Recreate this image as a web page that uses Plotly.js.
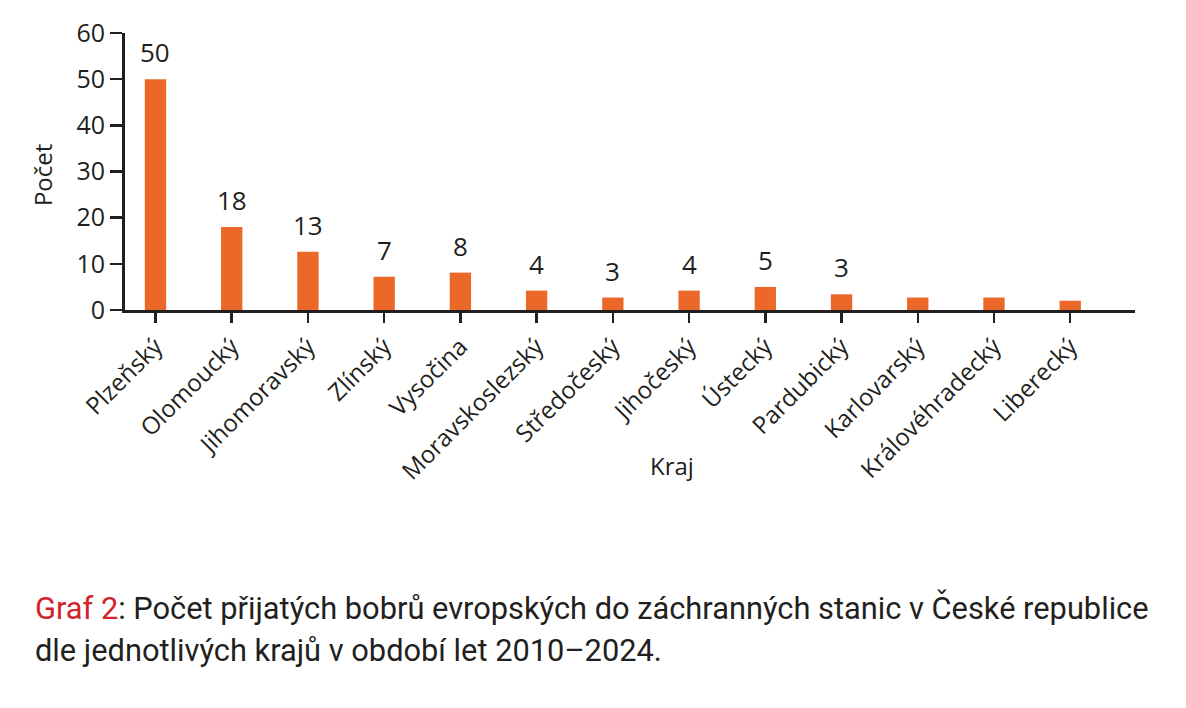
<!DOCTYPE html>
<html>
<head>
<meta charset="utf-8">
<script src="https://cdn.plot.ly/plotly-3.0.1.min.js"></script>
<style>
  html, body { margin: 0; padding: 0; background: #fff; }
  #wrap { position: relative; width: 1186px; height: 708px; }
  #chart { position: absolute; left: 0; top: 0; width: 1186px; height: 708px; }
  #caption { position: absolute; left: 35px; top: 588px; font-family: Roboto, sans-serif;
    font-size: 30.8px; line-height: 42px; color: #231f20; white-space: nowrap; }
  #caption .red { color: #d2232a; }
</style>
</head>
<body>
<div id="wrap">
  <div id="chart"></div>
  <div id="caption"><span class="red">Graf 2</span>: Počet přijatých bobrů evropských do záchranných stanic v České republice<br>dle jednotlivých krajů v období let 2010–2024.</div>
</div>
<script>
const categories = ["Plzeňský", "Olomoucký", "Jihomoravský", "Zlínský", "Vysočina", "Moravskoslezský",
  "Středočeský", "Jihočeský", "Ústecký", "Pardubický", "Karlovarský", "Královéhradecký", "Liberecký"];
const values = [50, 18, 12.6, 7.2, 8.1, 4.2, 2.7, 4.2, 5, 3.4, 2.7, 2.7, 2];
const valueLabels = ["50", "18", "13", "7", "8", "4", "3", "4", "5", "3", "", "", ""];
const yTicks = [0, 10, 20, 30, 40, 50, 60];
const xTitle = "Kraj";
const yTitle = "Počet";

const ink = "#231f20";
const font = "'Open Sans', sans-serif";

const annotations = categories.map((c, i) => ({
  x: i, y: values[i], xref: "x", yref: "y", text: valueLabels[i], showarrow: false,
  yanchor: "middle", yshift: 27, font: { family: font, size: 26, color: ink }
})).filter(a => a.text !== "");

annotations.push({
  text: xTitle, xref: "paper", yref: "paper", x: 0.5416, y: -0.563,
  xanchor: "center", yanchor: "middle", showarrow: false,
  font: { family: font, size: 24, color: ink }
});
annotations.push({
  text: yTitle, xref: "paper", yref: "paper", x: -0.0822, y: 0.487, textangle: -90,
  xanchor: "center", yanchor: "middle", showarrow: false,
  font: { family: font, size: 24, color: ink }
});

const trace = {
  type: "bar", x: categories.map((c, i) => i), y: values,
  width: 0.28, marker: { color: "#ec6829" }, hoverinfo: "skip"
};

const layout = {
  width: 1186, height: 708,
  margin: { l: 125, r: 51, t: 33, b: 398 },
  paper_bgcolor: "#fff", plot_bgcolor: "#fff",
  showlegend: false,
  font: { family: font, color: ink, size: 24 },
  xaxis: {
    range: [-0.4, 12.85], tickmode: "array", tickvals: categories.map((c, i) => i), ticktext: categories,
    tickangle: -45, ticks: "outside", ticklen: 10, tickwidth: 2.5, tickcolor: ink,
    showline: true, linewidth: 3, linecolor: ink, showgrid: false, zeroline: false,
    tickfont: { family: font, size: 24, color: ink },
    fixedrange: true
  },
  yaxis: {
    range: [0, 60], tickmode: "array", tickvals: yTicks, ticktext: yTicks.map(String),
    ticks: "outside", ticklen: 12, tickwidth: 2.5, tickcolor: ink,
    showline: true, linewidth: 3, linecolor: ink, showgrid: false, zeroline: false,
    tickfont: { family: font, size: 25, color: ink },
    fixedrange: true
  },
  annotations: annotations
};

Plotly.newPlot("chart", [trace], layout, { displayModeBar: false, staticPlot: true });
</script>
</body>
</html>
